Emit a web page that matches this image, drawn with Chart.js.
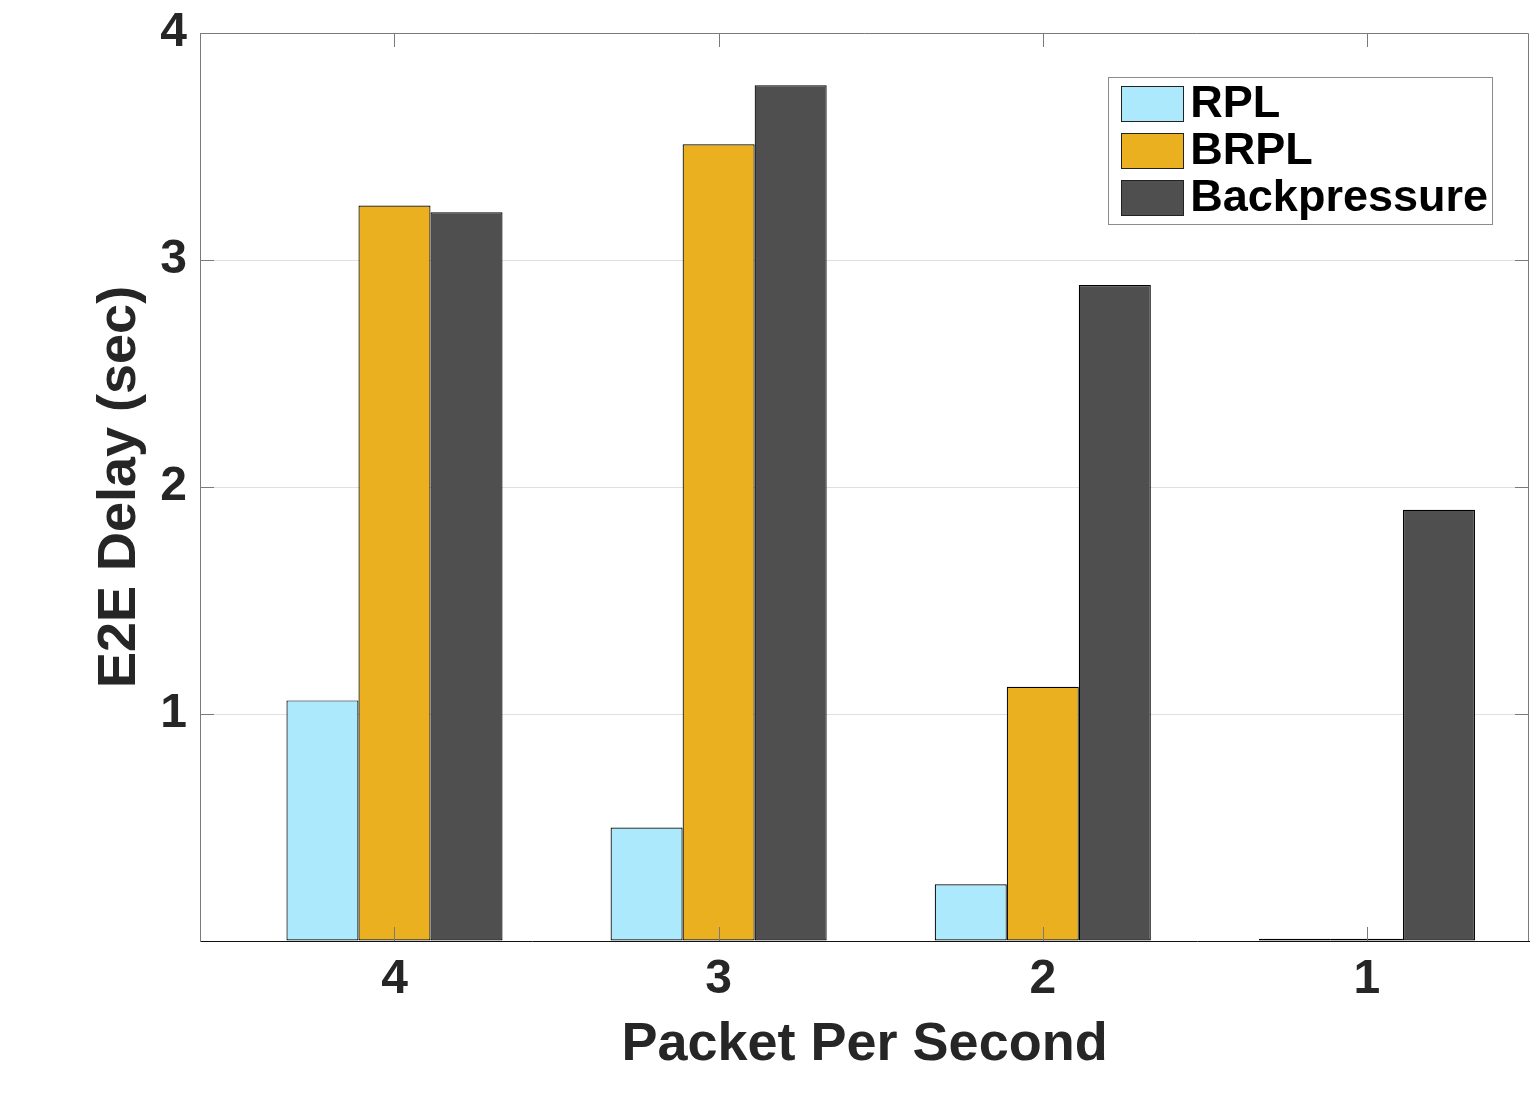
<!DOCTYPE html>
<html>
<head>
<meta charset="utf-8">
<title>E2E Delay</title>
<script src="https://cdn.jsdelivr.net/npm/chart.js@4.4.0/dist/chart.umd.min.js"></script>
<style>
  body { margin: 0; background: #fff; }
  canvas { display: block; }
</style>
</head>
<body>
<canvas id="delayChart" width="1538" height="1107"></canvas>
<script>
// données
const categories = ['4', '3', '2', '1'];     // paquets par seconde
const xPositions = [1, 2, 3, 4];             // position de chaque groupe sur l'axe
const rplDelay = [1.06, 0.50, 0.25, 0.01];
const brplDelay = [3.24, 3.51, 1.12, 0.01];
const backpressureDelay = [3.21, 3.77, 2.89, 1.90];
const yTicks = [0, 1, 2, 3, 4];

const FONT = '"Liberation Sans", Arial, Helvetica, sans-serif';
const AXIS_GRAY = '#7a7a7a';

function toPoints(values) {
  return values.map((v, i) => ({ x: xPositions[i], y: v }));
}

// bordure haut/droite + petits ticks vers l'intérieur (style matlab)
const boxPlugin = {
  id: 'box',
  afterDatasetsDraw(chart) {
    const { ctx, chartArea: a, scales } = chart;
    const len = 14;
    ctx.save();
    ctx.strokeStyle = AXIS_GRAY;
    ctx.lineWidth = 1;
    ctx.beginPath();
    ctx.moveTo(a.left, a.top + 0.5);
    ctx.lineTo(a.right - 0.5, a.top + 0.5);
    ctx.lineTo(a.right - 0.5, a.bottom);
    for (const v of xPositions) {
      const px = Math.round(scales.x.getPixelForValue(v)) + 0.5;
      ctx.moveTo(px, a.top);
      ctx.lineTo(px, a.top + len);
      ctx.moveTo(px, a.bottom);
      ctx.lineTo(px, a.bottom - len);
    }
    for (const v of [1, 2, 3]) {
      const py = Math.round(scales.y.getPixelForValue(v)) + 0.5;
      ctx.moveTo(a.left, py);
      ctx.lineTo(a.left + len, py);
      ctx.moveTo(a.right, py);
      ctx.lineTo(a.right - len, py);
    }
    ctx.stroke();
    ctx.restore();
  }
};

// légende dans le coin en haut à droite
const legendPlugin = {
  id: 'boxLegend',
  afterDraw(chart) {
    const { ctx, chartArea: a } = chart;
    const sets = chart.data.datasets;
    ctx.save();
    ctx.font = 'bold 45px ' + FONT;
    let maxW = 0;
    sets.forEach(ds => { maxW = Math.max(maxW, ctx.measureText(ds.label).width); });
    const boxW = 13 + 62 + 7 + maxW + 4;
    const boxH = 147;
    const right = a.right - 37;
    const left = right - boxW;
    const top = a.top + 44;
    ctx.fillStyle = '#fff';
    ctx.fillRect(left, top, boxW, boxH);
    ctx.strokeStyle = '#8c8c8c';
    ctx.lineWidth = 1;
    ctx.strokeRect(Math.round(left) + 0.5, top + 0.5, Math.round(boxW), boxH);
    sets.forEach((ds, i) => {
      const y = top + 9 + i * 47;
      ctx.fillStyle = ds.backgroundColor;
      ctx.fillRect(left + 13, y, 62, 35);
      ctx.strokeStyle = '#222';
      ctx.strokeRect(Math.round(left + 13) + 0.5, y + 0.5, 62, 35);
      ctx.fillStyle = '#000';
      ctx.textBaseline = 'middle';
      ctx.textAlign = 'left';
      ctx.fillText(ds.label, left + 82, y + 19);
    });
    ctx.restore();
  }
};

const ctx = document.getElementById('delayChart').getContext('2d');

const chart = new Chart(ctx, {
  type: 'bar',
  data: {
    datasets: [{
      label: 'RPL',
      data: toPoints(rplDelay),
      backgroundColor: '#ade9fc',
      borderColor: '#000',
      borderWidth: 1.2,
      borderSkipped: false
    },
    {
      label: 'BRPL',
      data: toPoints(brplDelay),
      backgroundColor: '#eab020',
      borderColor: '#000',
      borderWidth: 1.2,
      borderSkipped: false
    },
    {
      label: 'Backpressure',
      data: toPoints(backpressureDelay),
      backgroundColor: '#4f4f4f',
      borderColor: '#000',
      borderWidth: 1.2,
      borderSkipped: false
    }]
  },
  plugins: [boxPlugin, legendPlugin],
  options: {
    responsive: false,
    animation: false,
    devicePixelRatio: 1,
    layout: { padding: { left: 93, top: 33, right: 9, bottom: 0 } },
    datasets: {
      bar: { categoryPercentage: 216 / 324, barPercentage: 1 }
    },
    plugins: {
      legend: { display: false },
      tooltip: { enabled: false }
    },
    scales: {
      x: {
        type: 'linear',
        offset: false,
        min: 0.4,
        max: 4.5,
        afterBuildTicks: scale => {
          scale.ticks = xPositions.map(v => ({ value: v }));
        },
        afterFit: scale => { scale.height = 166; },
        grid: { display: false, drawTicks: false, offset: false },
        border: { display: true, color: '#111', width: 1 },
        ticks: {
          padding: 10,
          color: '#262626',
          font: { family: FONT, size: 48, weight: 'bold' },
          callback: v => categories[xPositions.indexOf(v)]
        },
        title: {
          display: true,
          text: 'Packet Per Second',
          color: '#262626',
          font: { family: FONT, size: 54, weight: 'bold', lineHeight: 1 },
          padding: { top: 0, bottom: 35 }
        }
      },
      y: {
        min: 0,
        max: 4,
        afterBuildTicks: scale => {
          scale.ticks = yTicks.map(v => ({ value: v }));
        },
        afterFit: scale => { scale.width = 107; },
        grid: {
          drawTicks: false,
          color: c => (c.tick.value > 0 && c.tick.value < 4) ? '#e0e0e0' : 'rgba(0,0,0,0)'
        },
        border: { display: true, color: AXIS_GRAY, width: 1 },
        ticks: {
          padding: 13,
          color: '#262626',
          font: { family: FONT, size: 48, weight: 'bold', lineHeight: 0.8 },
          callback: v => v === 0 ? '' : String(v)
        },
        title: {
          display: true,
          text: 'E2E Delay (sec)',
          color: '#262626',
          font: { family: FONT, size: 54, weight: 'bold', lineHeight: 1 },
          padding: { top: 0, bottom: 0 }
        }
      }
    }
  }
});
</script>
</body>
</html>
